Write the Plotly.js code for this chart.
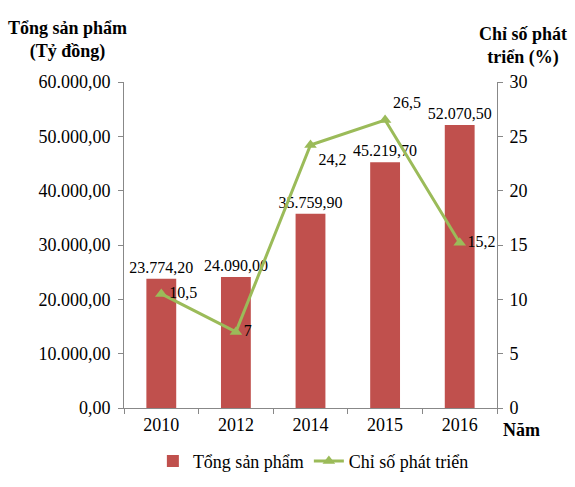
<!DOCTYPE html>
<html>
<head>
<meta charset="utf-8">
<script src="https://cdn.plot.ly/plotly-3.0.1.min.js"></script>
<style>
  body { margin: 0; background: #fff; }
  #chart { width: 575px; height: 487px; }
</style>
</head>
<body>
<div id="chart"></div>
<script>
// data
var years = ['2010', '2012', '2014', '2015', '2016'];
var tongSanPham = [23774.2, 24090.0, 35759.9, 45219.7, 52070.5];
var chiSo = [10.5, 7, 24.2, 26.5, 15.2];
var chiSoLabels = ['10,5', '7', '24,2', '26,5', '15,2'];

var serif = '"Liberation Serif", "Times New Roman", Tinos, "DejaVu Serif", serif';
var fs = 18;   // axis ticks, titles, legend
var ls = 16;   // data labels

var bars = {
  x: years,
  y: tongSanPham,
  name: 'Tổng sản phẩm',
  type: 'bar',
  marker: {color: '#C0504D'},
  texttemplate: '%{y:,.2f}',
  textposition: 'outside',
  constraintext: 'none',
  cliponaxis: false,
  textfont: {family: serif, size: ls, color: '#000'},
  outsidetextfont: {family: serif, size: ls, color: '#000'},
  hoverinfo: 'none'
};

var line = {
  x: years,
  y: chiSo,
  name: 'Chỉ số phát triển',
  type: 'scatter',
  mode: 'lines+markers+text',
  yaxis: 'y2',
  line: {color: '#9BBB59', width: 3},
  marker: {symbol: 'triangle-up', size: 11, color: '#9BBB59'},
  text: chiSoLabels,
  textposition: ['middle right', 'middle right', 'bottom right', 'top right', 'middle right'],
  textfont: {family: serif, size: ls, color: '#000'},
  cliponaxis: false,
  hoverinfo: 'none'
};

var layout = {
  width: 575,
  height: 487,
  margin: {l: 124, r: 78, t: 82, b: 79},
  separators: ',.',
  font: {family: serif, size: fs, color: '#000'},
  paper_bgcolor: '#fff',
  plot_bgcolor: '#fff',
  bargap: 0.6,
  showlegend: true,
  legend: {
    orientation: 'h',
    x: 0.545, xanchor: 'center', xref: 'container',
    y: 0.053, yanchor: 'middle', yref: 'container',
    font: {family: serif, size: fs}
  },
  xaxis: {
    type: 'category',
    automargin: false,
    showline: true,
    linecolor: '#888',
    ticks: 'outside',
    tickson: 'boundaries',
    ticklen: 5,
    tickcolor: '#888',
    showgrid: false,
    tickfont: {family: serif, size: fs}
  },
  yaxis: {
    range: [0, 60000],
    dtick: 10000,
    tickformat: ',.2f',
    automargin: false,
    showline: true,
    linecolor: '#888',
    ticks: 'outside',
    ticklen: 5,
    tickcolor: '#888',
    ticklabelstandoff: 4,
    showgrid: false,
    zeroline: false,
    tickfont: {family: serif, size: fs}
  },
  yaxis2: {
    range: [0, 30],
    dtick: 5,
    overlaying: 'y',
    side: 'right',
    automargin: false,
    showline: true,
    linecolor: '#888',
    ticks: 'outside',
    ticklen: 5,
    tickcolor: '#888',
    ticklabelstandoff: 3,
    showgrid: false,
    zeroline: false,
    tickfont: {family: serif, size: fs}
  },
  annotations: [
    {text: '<b>Tổng sản phẩm<br>(Tỷ đồng)</b>', xref: 'paper', yref: 'paper',
     x: -0.152, y: 1.13, xanchor: 'center', yanchor: 'middle', showarrow: false,
     font: {family: serif, size: fs}},
    {text: '<b>Chỉ số phát<br>triển (%)</b>', xref: 'paper', yref: 'paper',
     x: 1.07, y: 1.11, xanchor: 'center', yanchor: 'middle', showarrow: false,
     font: {family: serif, size: fs}},
    {text: '<b>Năm</b>', xref: 'paper', yref: 'paper',
     x: 1.01, y: -0.03, xanchor: 'left', yanchor: 'top', showarrow: false,
     font: {family: serif, size: fs}}
  ]
};

Plotly.newPlot('chart', [bars, line], layout, {displayModeBar: false, staticPlot: true});
</script>
</body>
</html>
